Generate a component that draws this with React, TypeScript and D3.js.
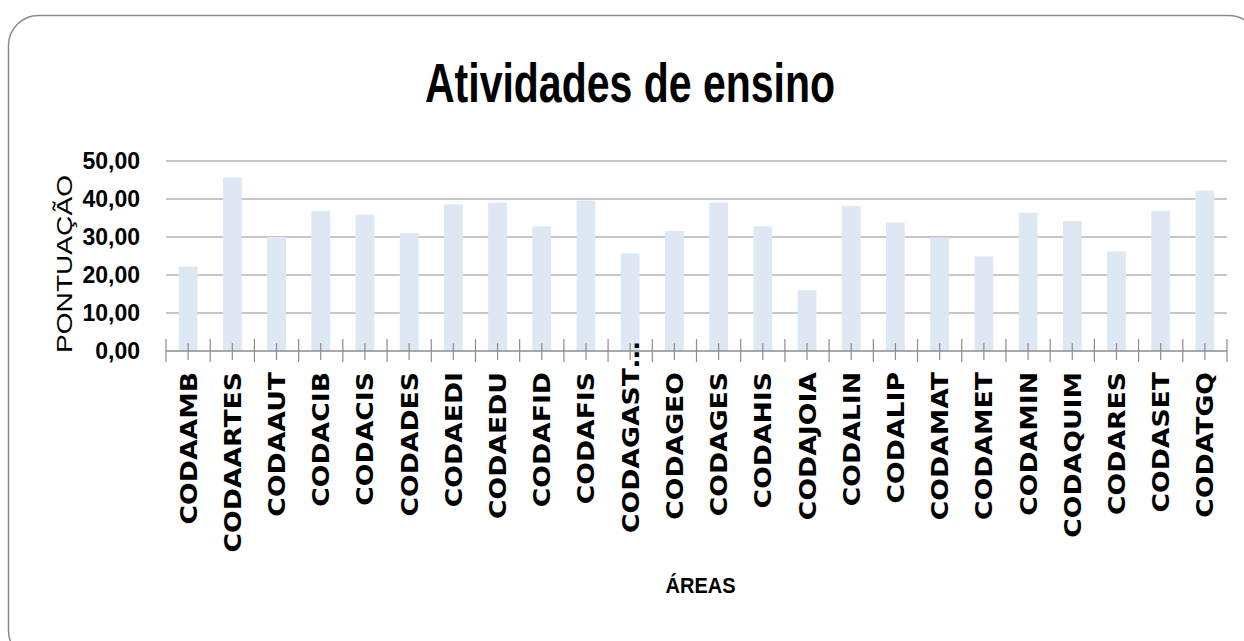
import * as d3 from "d3";
import { useEffect, useRef } from "react";

const categories = [
  "CODAAMB", "CODAARTES", "CODAAUT", "CODACIB", "CODACIS", "CODADES",
  "CODAEDI", "CODAEDU", "CODAFID", "CODAFIS", "CODAGAST…", "CODAGEO",
  "CODAGES", "CODAHIS", "CODAJOIA", "CODALIN", "CODALIP", "CODAMAT",
  "CODAMET", "CODAMIN", "CODAQUIM", "CODARES", "CODASET", "CODATGQ"
];

const scores = [
  22.2, 45.7, 30.0, 36.8, 35.9, 31.0,
  38.6, 39.0, 32.8, 39.6, 25.7, 31.6,
  39.0, 32.8, 16.0, 38.2, 33.8, 29.9,
  24.9, 36.4, 34.2, 26.2, 36.8, 42.2
];

const yTicks = [0, 10, 20, 30, 40, 50];

const W = 1244;
const H = 641;

const App = () => {
  const chartRef = useRef(null);

  useEffect(() => {
    const svg = d3.select(chartRef.current);
    svg.selectAll("*").remove();

    const margin = { top: 161, bottom: 290, left: 166, right: 17 };
    const boundsWidth = W - margin.left - margin.right;
    const boundsHeight = H - margin.top - margin.bottom;

    const scaleX = d3.scaleBand()
      .domain(categories)
      .range([0, boundsWidth])
      .paddingInner(0.575)
      .paddingOuter(0.2875);

    const scaleY = d3.scaleLinear()
      .domain([0, 50])
      .range([boundsHeight, 0]);

    const step = scaleX.step();
    // band edges (for the crossing tick marks)
    const bandStart = (c) => scaleX(c) - step * scaleX.paddingInner() / 2;

    // chart frame
    svg.append("rect")
      .attr("x", 8.5)
      .attr("y", 15.5)
      .attr("width", 1250)
      .attr("height", 645)
      .attr("rx", 30)
      .attr("fill", "#fff")
      .attr("stroke", "#8a8a8a")
      .attr("stroke-width", 1.5);

    // title
    svg.append("text")
      .attr("x", 630)
      .attr("y", 102)
      .attr("text-anchor", "middle")
      .attr("font-family", "'Liberation Sans', Arial, sans-serif")
      .attr("font-weight", "bold")
      .attr("font-size", 56)
      .attr("textLength", 410)
      .attr("lengthAdjust", "spacingAndGlyphs")
      .attr("fill", "#000")
      .text("Atividades de ensino");

    const g = svg.append("g")
      .attr("transform", `translate(${margin.left}, ${margin.top})`);

    // gridlines
    g.selectAll(".grid")
      .data(yTicks.filter(t => t > 0))
      .enter()
      .append("line")
      .attr("x1", 0)
      .attr("x2", boundsWidth)
      .attr("y1", d => scaleY(d))
      .attr("y2", d => scaleY(d))
      .attr("stroke", "#b4b4b4")
      .attr("stroke-width", 1.5);

    // y tick labels
    g.selectAll(".ylab")
      .data(yTicks)
      .enter()
      .append("text")
      .attr("x", -26)
      .attr("y", d => scaleY(d) + 8)
      .attr("text-anchor", "end")
      .attr("font-family", "'Liberation Sans', Arial, sans-serif")
      .attr("font-weight", "bold")
      .attr("font-size", 23)
      .attr("fill", "#000")
      .text(d => d3.format(".2f")(d).replace(".", ","));

    // bars
    g.selectAll(".bar")
      .data(categories)
      .enter()
      .append("rect")
      .attr("x", d => scaleX(d))
      .attr("y", (d, i) => scaleY(scores[i]))
      .attr("width", scaleX.bandwidth())
      .attr("height", (d, i) => boundsHeight - scaleY(scores[i]))
      .attr("fill", "#dde8f4");

    // x axis line
    g.append("line")
      .attr("x1", 0)
      .attr("x2", boundsWidth)
      .attr("y1", boundsHeight)
      .attr("y2", boundsHeight)
      .attr("stroke", "#8c8c8c")
      .attr("stroke-width", 1.5);

    // boundary ticks
    const edges = categories.map(c => bandStart(c)).concat([boundsWidth]);
    g.selectAll(".edge")
      .data(edges)
      .enter()
      .append("line")
      .attr("x1", d => d)
      .attr("x2", d => d)
      .attr("y1", boundsHeight - 12)
      .attr("y2", boundsHeight + 11)
      .attr("stroke", "#8c8c8c")
      .attr("stroke-width", 1.2);

    // center ticks
    g.selectAll(".mid")
      .data(categories)
      .enter()
      .append("line")
      .attr("x1", d => scaleX(d) + scaleX.bandwidth() / 2)
      .attr("x2", d => scaleX(d) + scaleX.bandwidth() / 2)
      .attr("y1", boundsHeight - 8)
      .attr("y2", boundsHeight + 9)
      .attr("stroke", "#8c8c8c")
      .attr("stroke-width", 1.2);

    // category labels, rotated
    g.selectAll(".xlab")
      .data(categories)
      .enter()
      .append("text")
      .attr("transform", d => {
        const x = scaleX(d) + scaleX.bandwidth() / 2 + 8.5;
        const y = d.endsWith("…") ? boundsHeight + 182 : boundsHeight + 21;
        return `translate(${x}, ${y}) rotate(-90) scale(1.16, 1)`;
      })
      .attr("text-anchor", d => d.endsWith("…") ? "start" : "end")
      .attr("font-family", "'DejaVu Sans', Verdana, sans-serif")
      .attr("font-weight", "bold")
      .attr("font-size", 23)
      .attr("fill", "#000")
      .text(d => d);

    // axis titles
    svg.append("text")
      .attr("x", margin.left + boundsWidth / 2 + 4)
      .attr("y", 593)
      .attr("text-anchor", "middle")
      .attr("font-family", "'Liberation Sans', Arial, sans-serif")
      .attr("font-weight", "bold")
      .attr("font-size", 22)
      .attr("textLength", 70)
      .attr("lengthAdjust", "spacingAndGlyphs")
      .attr("fill", "#000")
      .text("ÁREAS");

    svg.append("text")
      .attr("transform", `translate(72, ${margin.top + 103}) rotate(-90)`)
      .attr("text-anchor", "middle")
      .attr("font-family", "'Liberation Sans', Arial, sans-serif")
      .attr("font-size", 22)
      .attr("textLength", 178)
      .attr("lengthAdjust", "spacingAndGlyphs")
      .attr("fill", "#000")
      .text("PONTUAÇÃO");
  }, []);

  return (
    <svg
      ref={chartRef}
      width={W}
      height={H}
      style={{ position: "absolute", left: 0, top: 0, background: "#fff" }}
    ></svg>
  );
};

export default App;
